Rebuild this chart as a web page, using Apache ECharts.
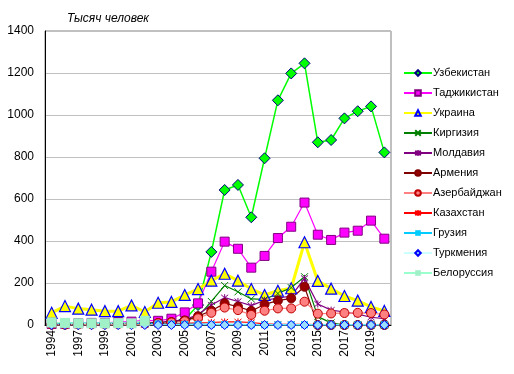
<!DOCTYPE html>
<html><head><meta charset="utf-8">
<script src="https://cdn.jsdelivr.net/npm/echarts@6/dist/echarts.min.js"></script>
<style>html,body{margin:0;padding:0;background:#fff}#c{width:514px;height:374px}</style>
</head><body><div id="c"></div>
<script>
var years = ['1994','1995','1997','1998','1999','2000','2001','2002','2003','2004','2005','2006','2007','2008','2009','2010','2011','2012','2013','2014','2015','2016','2017','2018','2019','2020'];
var uzbekistan = [3,4,4,5,5,6,6,8,10,15,25,95,348,643,667,513,794,1070,1198,1246,870,881,984,1018,1041,822];
var tajikistan = [5,6,8,10,10,14,16,22,20,30,60,103,254,397,363,273,329,414,468,583,430,405,440,449,497,411];
var ukraine = [58,90,78,73,66,66,93,62,106,110,143,171,211,244,211,171,143,163,175,394,210,173,138,116,86,67];
var kirgizia = [3,3,3,4,4,4,5,6,8,12,20,40,112,188,158,124,122,150,178,230,40,10,0,0,0,0];
var moldova = [4,4,5,6,7,8,9,10,12,18,25,50,95,130,112,92,118,128,138,222,100,71,62,52,37,30];
var armenia = [3,3,4,5,5,6,7,8,10,14,22,42,68,103,87,67,98,116,127,182,0,0,0,0,0,0];
var azerbaijan = [2,2,3,3,4,4,5,6,8,12,18,32,58,83,71,48,68,79,79,111,54,55,57,58,57,50];
var kazakhstan = [1,1,1,1,1,1,1,2,5,6,8,10,12,15,15,12,5,3,3,3,2,2,2,2,2,2];
var georgia = [10,10,10,9,9,8,8,8,5,4,3,3,2,2,2,1,1,1,1,1,1,1,1,1,1,1];
var turkmenia = [0,0,0,0,0,0,0,0,0,0,0,0,0,0,0,0,0,0,0,0,0,0,0,0,0,0];
var belarus = [12,10,8,8,8,9,8,20,null,null,null,null,null,null,null,null,null,null,null,null,null,null,null,null,null,null];
var yTicks = {min:0, max:1400, interval:200};

var FONT = 'Liberation Sans, Arial, sans-serif';
var X_PATH = 'path://M0,0L10,10M10,0L0,10';
var STAR_PATH = 'path://M0,0L10,10M10,0L0,10M5,-1L5,11';
var DASH_PATH = 'path://M0,4L10,4L10,6L0,6Z';

function s(name, data, lineColor, lw, symbol, size, fill, border, bw) {
  return {
    name: name, type: 'line', data: data, symbol: symbol, symbolSize: size,
    showAllSymbol: true, connectNulls: false,
    lineStyle: {color: lineColor, width: lw},
    itemStyle: {color: fill, borderColor: border, borderWidth: bw},
    emphasis: {disabled: true}, animation: false
  };
}

var series = [
  s('Узбекистан', uzbekistan, '#00FF00', 1.5, 'diamond', 11, '#00FF00', '#000080', 1),
  s('Таджикистан', tajikistan, '#FF00FF', 1.2, 'rect', 9, '#FF00FF', '#800080', 1),
  s('Украина', ukraine, '#FFFF00', 3, 'triangle', 11, '#FFFF00', '#0000FF', 1.2),
  s('Киргизия', kirgizia, '#008000', 1.2, X_PATH, 7, 'none', '#008000', 1),
  s('Молдавия', moldova, '#800080', 1.2, STAR_PATH, 7, 'none', '#800080', 1),
  s('Армения', armenia, '#800000', 1.2, 'circle', 9, '#990000', '#800000', 1),
  s('Азербайджан', azerbaijan, '#FF8080', 1.2, 'circle', 9, '#FF8080', '#C00000', 1),
  s('Казахстан', kazakhstan, '#FF0000', 1.2, STAR_PATH, 7, 'none', '#FF0000', 1),
  s('Грузия', georgia, '#00CCFF', 1.5, DASH_PATH, 7, '#00CCFF', '#00CCFF', 0),
  s('Туркмения', turkmenia, '#CCFFFF', 1.2, 'diamond', 9, '#99DDFF', '#0000FF', 1),
  s('Белоруссия', belarus, '#99FFCC', 1.5, 'rect', 10, '#A0F0C8', '#A0F0C8', 0)
];

var chart = echarts.init(document.getElementById('c'), null, {renderer: 'canvas'});
chart.setOption({
  animation: false,
  backgroundColor: '#fff',
  textStyle: {fontFamily: FONT},
  title: {text: 'Тысяч человек', left: 62, top: 8,
    textStyle: {fontFamily: FONT, fontSize: 12, fontStyle: 'italic', fontWeight: 'normal', color: '#000'}},
  grid: {left: 45, top: 31, width: 346, height: 294, show: true, borderColor: '#808080', borderWidth: 1, containLabel: false},
  legend: {
    orient: 'vertical', left: 403, top: 66, padding: 0, itemWidth: 28, itemHeight: 7, itemGap: 6,
    textStyle: {fontFamily: FONT, fontSize: 11, lineHeight: 14, color: '#000', padding: [0,0,0,-4]},
    data: series.map(function(d){return d.name;}),
    selectedMode: false
  },
  xAxis: {
    type: 'category', data: years, boundaryGap: true,
    axisLine: {lineStyle: {color: '#000', width: 1}},
    axisTick: {show: false},
    axisLabel: {interval: 1, rotate: 90, fontSize: 12, color: '#000', fontFamily: FONT, margin: 5},
    splitLine: {show: false}
  },
  yAxis: {
    type: 'value', min: yTicks.min, max: yTicks.max, interval: yTicks.interval,
    axisLine: {show: true, lineStyle: {color: '#000', width: 1}},
    axisTick: {show: false},
    axisLabel: {fontSize: 12, color: '#000', fontFamily: FONT, margin: 11, formatter: function(v){return String(v);}},
    splitLine: {lineStyle: {color: '#C0C0C0', width: 1}}
  },
  series: series
});
</script></body></html>
